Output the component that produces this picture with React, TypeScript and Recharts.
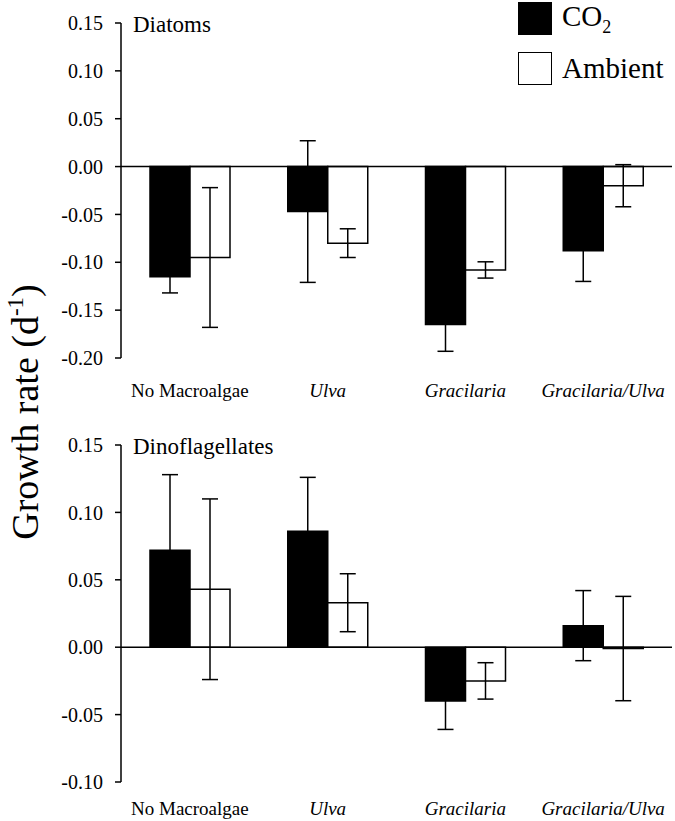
import { BarChart, Bar, XAxis, YAxis, ErrorBar, ReferenceLine } from "recharts";

const categories = ["No Macroalgae", "Ulva", "Gracilaria", "Gracilaria/Ulva"];

const diatomCO2 = [-0.115, -0.047, -0.165, -0.088];
const diatomCO2Err = [0.017, 0.074, 0.028, 0.032];
const diatomAmbient = [-0.095, -0.08, -0.108, -0.02];
const diatomAmbientErr = [0.073, 0.015, 0.0085, 0.022];

const dinoCO2 = [0.072, 0.086, -0.04, 0.016];
const dinoCO2Err = [0.056, 0.04, 0.021, 0.026];
const dinoAmbient = [0.043, 0.033, -0.025, -0.001];
const dinoAmbientErr = [0.067, 0.0215, 0.0135, 0.0387];

const diatomTicks = [-0.2, -0.15, -0.1, -0.05, 0, 0.05, 0.1, 0.15];
const dinoTicks = [-0.1, -0.05, 0, 0.05, 0.1, 0.15];

const FONT = "'Liberation Serif', 'Times New Roman', serif";

const buildRows = (co2: number[], co2Err: number[], amb: number[], ambErr: number[]) =>
  categories.map((name, i) => ({
    name,
    co2: co2[i],
    co2Err: co2Err[i],
    ambient: amb[i],
    ambientErr: ambErr[i],
  }));

const diatomData = buildRows(diatomCO2, diatomCO2Err, diatomAmbient, diatomAmbientErr);
const dinoData = buildRows(dinoCO2, dinoCO2Err, dinoAmbient, dinoAmbientErr);

const makeXTick = (dy: number) => (props: any) => {
  const { x, y, payload } = props;
  const italic = payload.value !== "No Macroalgae";
  return (
    <text
      x={x}
      y={y}
      dy={dy}
      textAnchor="middle"
      fill="#000"
      fontFamily={FONT}
      fontSize={19}
      fontStyle={italic ? "italic" : "normal"}
    >
      {payload.value}
    </text>
  );
};

// legend sits outside the chart so it doesn't eat plot space
const LegendBox = () => (
  <div
    style={{
      position: "absolute",
      left: 518,
      top: 2,
      fontFamily: FONT,
      fontSize: 29,
      color: "#000",
      lineHeight: 1,
    }}
  >
    <div style={{ display: "flex", alignItems: "center", height: 33, marginBottom: 17 }}>
      <div style={{ width: 34, height: 33, background: "#000" }} />
      <span style={{ marginLeft: 10 }}>
        CO<sub style={{ fontSize: 18, verticalAlign: "-7px" }}>2</sub>
      </span>
    </div>
    <div style={{ display: "flex", alignItems: "center", height: 33 }}>
      <div style={{ width: 34, height: 33, background: "#fff", border: "1.5px solid #000", boxSizing: "border-box" }} />
      <span style={{ marginLeft: 10 }}>Ambient</span>
    </div>
  </div>
);

interface PanelProps {
  data: any[];
  ticks: number[];
  title: string;
  height: number;
  marginTop: number;
  xAxisHeight: number;
  labelDy: number;
}

function Panel({ data, ticks, title, height, marginTop, xAxisHeight, labelDy }: PanelProps) {
  return (
    <BarChart
      width={675}
      height={height}
      data={data}
      margin={{ top: marginTop, right: 3, left: 0, bottom: 0 }}
      barGap={0}
    >
      <XAxis
        dataKey="name"
        axisLine={false}
        tickLine={false}
        tickSize={0}
        tickMargin={0}
        height={xAxisHeight}
        interval={0}
        tick={makeXTick(labelDy)}
      />
      <YAxis
        width={121}
        domain={[ticks[0], ticks[ticks.length - 1]]}
        ticks={ticks}
        interval={0}
        allowDataOverflow
        tickSize={6}
        tickMargin={12}
        axisLine={{ stroke: "#000", strokeWidth: 1.5 }}
        tickLine={{ stroke: "#000", strokeWidth: 1.5 }}
        tick={{ fill: "#000", fontSize: 20, fontFamily: FONT }}
        tickFormatter={(v: number) => v.toFixed(2)}
      />
      <ReferenceLine y={0} stroke="#000" strokeWidth={1.5} />
      <Bar dataKey="co2" name="CO2" fill="#000" stroke="#000" strokeWidth={1.5} barSize={40} isAnimationActive={false}>
        <ErrorBar dataKey="co2Err" width={8} stroke="#000" strokeWidth={1.5} direction="y" isAnimationActive={false} />
      </Bar>
      <Bar dataKey="ambient" name="Ambient" fill="#fff" stroke="#000" strokeWidth={1.5} barSize={40} isAnimationActive={false}>
        <ErrorBar dataKey="ambientErr" width={8} stroke="#000" strokeWidth={1.5} direction="y" isAnimationActive={false} />
      </Bar>
      <text x={133} y={marginTop + 9} fontFamily={FONT} fontSize={23} fill="#000">
        {title}
      </text>
    </BarChart>
  );
}

export default function App() {
  return (
    <div style={{ position: "absolute", left: 0, top: 0, width: 675, height: 821, background: "#fff" }}>
      <div style={{ position: "absolute", left: 0, top: 0 }}>
        <Panel
          data={diatomData}
          ticks={diatomTicks}
          title="Diatoms"
          height={420}
          marginTop={23}
          xAxisHeight={62}
          labelDy={39}
        />
      </div>
      <div style={{ position: "absolute", left: 0, top: 420 }}>
        <Panel
          data={dinoData}
          ticks={dinoTicks}
          title="Dinoflagellates"
          height={401}
          marginTop={25}
          xAxisHeight={39}
          labelDy={33}
        />
      </div>
      <LegendBox />
      <svg style={{ position: "absolute", left: 0, top: 0 }} width={70} height={821}>
        <text
          transform="translate(38 412) rotate(-90)"
          textAnchor="middle"
          fontFamily={FONT}
          fontSize={38}
          fill="#000"
        >
          Growth rate (d
          <tspan fontSize={23} dy={-15}>-1</tspan>
          <tspan dy={15}>)</tspan>
        </text>
      </svg>
    </div>
  );
}
